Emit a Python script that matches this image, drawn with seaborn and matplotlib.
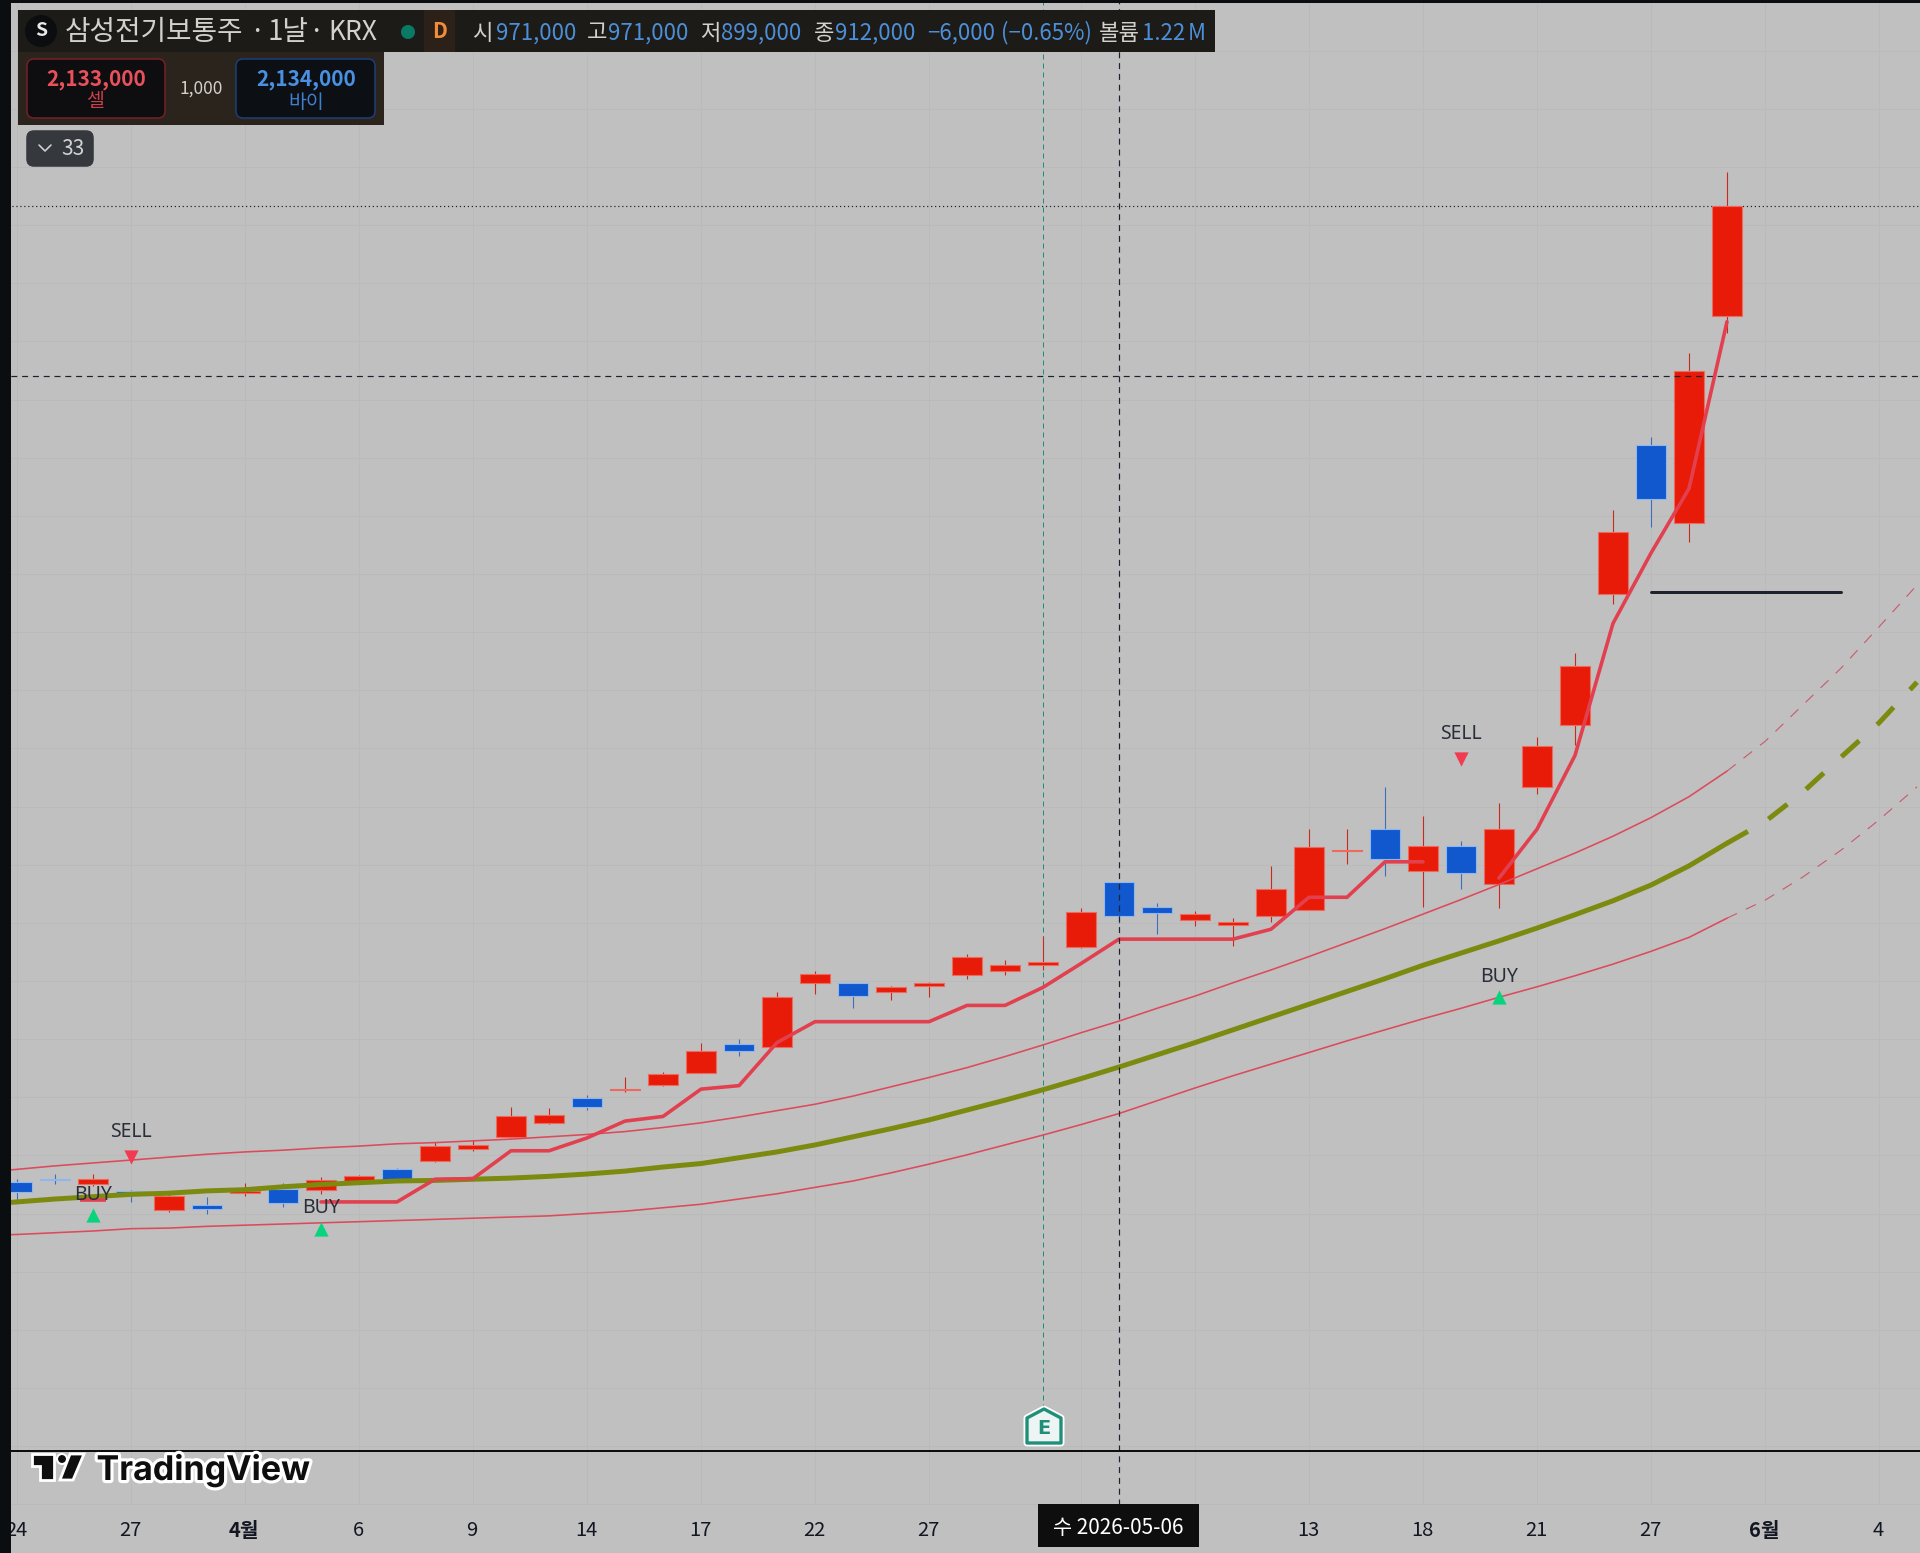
import numpy as np
import seaborn as sns
import matplotlib.pyplot as plt
import matplotlib.patheffects as pe
from matplotlib.patches import Circle, FancyBboxPatch, Polygon, Rectangle

W, H = 1920, 1553
PX = 0.72  # one pixel in points at dpi 100

# daily candles, prices in thousand KRW
opens = [454, 459, 451, 438, 406, 415, 435, 442, 441, 456, 477, 490, 511, 531, 555, 599,
         613, 621, 642, 692, 687, 797, 797, 781, 791, 811, 818, 828, 859, 971, 927, 905,
         896, 912, 922, 1023, 1062, 989, 1032, 967, 1134, 1240, 1465, 1722, 1588, 1944]
closes = [437, 458, 459, 436, 431, 408, 439, 418, 458, 464, 458, 516, 518, 567, 570, 583,
          615, 640, 680, 680, 773, 812, 774, 790, 796, 841, 828, 833, 919, 912, 917, 915,
          901, 959, 1031, 1025, 1009, 1032, 986, 1061, 1205, 1341, 1572, 1629, 1849, 2133]
highs = [459, 468, 468, 441, 435, 429, 453, 453, 463, 466, 478, 523, 526, 584, 582, 604,
         635, 644, 693, 700, 781, 817, 797, 791, 799, 846, 836, 877, 926, 971, 935, 921,
         908, 997, 1061, 1061, 1134, 1084, 1041, 1106, 1219, 1364, 1610, 1735, 1881, 2192]
lows = [423, 451, 447, 420, 403, 399, 430, 411, 434, 456, 458, 489, 508, 530, 554, 578,
        609, 619, 642, 671, 687, 778, 754, 767, 773, 804, 810, 819, 857, 899, 881, 895,
        860, 902, 922, 1001, 981, 927, 958, 926, 1121, 1206, 1448, 1581, 1555, 1914]

# channel lines, first value sits one bar left of the first candle
upper_band = [471, 476, 482, 487, 492, 497, 502, 506, 509, 513, 516, 520, 522, 525, 528, 532, 536,
              541, 548, 556, 566, 577, 588, 602, 618, 634, 651, 670, 690, 711, 731, 753, 774,
              797, 819, 842, 866, 890, 915, 940, 966, 993, 1020, 1049, 1081, 1117, 1161]
mid_band = [415, 420, 425, 429, 433, 435, 439, 441, 446, 450, 453, 456, 457, 459, 461, 464, 468,
            473, 480, 486, 496, 506, 518, 532, 546, 561, 578, 595, 613, 632, 652, 673, 694,
            716, 738, 760, 782, 804, 827, 848, 869, 891, 914, 938, 965, 998, 1037]
lower_band = [362, 364, 367, 370, 374, 375, 378, 380, 382, 384, 386, 388, 390, 392, 394, 396, 400,
              404, 410, 416, 425, 434, 445, 456, 470, 485, 501, 518, 535, 553, 572, 594, 616,
              637, 657, 677, 697, 716, 735, 753, 772, 790, 809, 829, 851, 875, 908]
# projected part of the channel, bars 45 to 50
upper_proj = [1161, 1212, 1275, 1338, 1409, 1481]
mid_proj = [1037, 1074, 1125, 1185, 1244, 1314]
lower_proj = [908, 939, 979, 1025, 1077, 1134]

# red stop line, two runs
stop_a_x = list(range(8, 38))
stop_a = [420, 420, 420, 459, 460, 508, 508, 530, 559, 567, 614, 620, 694, 730, 730, 730,
          730, 758, 758, 789, 830, 872, 872, 872, 872, 889, 944, 944, 1005, 1005]
stop_b_x = list(range(39, 46))
stop_b = [977, 1061, 1188, 1415, 1536, 1647, 1934]
stop_dot_x = [2]
stop_dot = [424]

# signals
sell_x = [3, 38]
sell_y = [498, 1181]
sell_label_y = [540, 1225]
buy_x = [2, 8, 39]
buy_y = [398, 374, 773]
buy_label_y = [432, 410, 807]

# reference levels
sell_price = 2133
cross_price = 1841
cross_bar = 29
earnings_bar = 27
ray_x = [43, 48]
ray_y = [1469, 1469]

grid_x = [0, 3, 6, 9, 12, 15, 18, 21, 24, 28, 31, 34, 37, 40, 43, 46, 49]
tick_x = [0, 3, 6, 9, 12, 15, 18, 21, 24, 34, 37, 40, 43, 46, 49]
tick_labels = ['24', '27', '4월', '6', '9', '14', '17', '22', '27', '13', '18', '21', '27', '6월', '4']
bold_ticks = ['4월', '6월']

BG = '#C0C0C0'
GRID = '#BABABA'
RED = '#E81B08'
BLUE = '#1158CE'
STOP = '#E2404F'
OLIVE = '#7C8B0F'
BAND = '#DC4B5C'
LABEL_BLUE = '#4C8FD8'
LABEL_GREY = '#D3D1CA'

sns.set_theme(style='white', rc={'axes.facecolor': BG, 'figure.facecolor': BG})
plt.rcParams['font.family'] = ['Noto Sans CJK KR', 'DejaVu Sans']

fig = plt.figure(figsize=(W / 100, H / 100), dpi=100)

# chart pane runs down to pixel row 1505, 1.72 thousand KRW per pixel, 38 pixels per bar
pane_bottom = 1505
ax = fig.add_axes([0, 1 - pane_bottom / H, 1, pane_bottom / H])
ax.set_xlim(-17 / 38, (W - 17) / 38)
ax.set_ylim(2487.3 - 1.72 * pane_bottom, 2487.3)
ax.set_xticks(grid_x)
ax.set_yticks(np.arange(-100, 2500, 100))
ax.grid(True, color=GRID, linewidth=PX)
ax.set_axisbelow(True)
ax.tick_params(length=0, labelbottom=False, labelleft=False)
sns.despine(ax=ax, left=True, bottom=True)

# levels behind the candles
ax.axhline(sell_price, color='#1E222D', linewidth=1.2 * PX, linestyle=(0, (1, 2.3)), zorder=1.5)
ax.plot([earnings_bar, earnings_bar], [2487, 2487.3 - 1.72 * 1408], color='#1F8F7A',
        linewidth=PX, linestyle=(0, (5, 4)), zorder=1.5)

x = np.arange(len(opens))
o, c, hi, lo = map(np.array, (opens, closes, highs, lows))
up = c >= o
ax.vlines(x[up], lo[up], hi[up], color='#C62A1C', linewidth=1.1 * PX, zorder=2)
ax.vlines(x[~up], lo[~up], hi[~up], color='#3A6EBE', linewidth=1.1 * PX, zorder=2)
ax.bar(x[up], (c - o)[up], bottom=o[up], width=0.77, color=RED, edgecolor='#EE6A5E',
       linewidth=0.8, zorder=3)
ax.bar(x[~up], (o - c)[~up], bottom=c[~up], width=0.77, color=BLUE, edgecolor='#8DB8EE',
       linewidth=0.8, zorder=3)

# channel
band_x = list(range(-1, 46))
proj_x = list(range(45, 51))
for band in (upper_band, lower_band):
    sns.lineplot(x=band_x, y=band, ax=ax, color=BAND, linewidth=1.6 * PX, legend=False,
                 estimator=None, errorbar=None, zorder=4)
for band in (upper_proj, lower_proj):
    sns.lineplot(x=proj_x, y=band, ax=ax, color='#C9586A', linewidth=1.1 * PX, legend=False,
                 estimator=None, errorbar=None, zorder=4, linestyle=(0, (10, 9)))
sns.lineplot(x=band_x, y=mid_band, ax=ax, color=OLIVE, linewidth=5 * PX, legend=False,
             estimator=None, errorbar=None, zorder=4)
sns.lineplot(x=proj_x, y=mid_proj, ax=ax, color=OLIVE, linewidth=5 * PX, legend=False,
             estimator=None, errorbar=None, zorder=4, linestyle=(0, (4.8, 4.8)), dash_capstyle='butt')

# stop line
sns.lineplot(x=stop_a_x, y=stop_a, ax=ax, color=STOP, linewidth=3.6 * PX, legend=False,
             estimator=None, errorbar=None, zorder=5)
sns.lineplot(x=stop_b_x, y=stop_b, ax=ax, color=STOP, linewidth=3.6 * PX, legend=False,
             estimator=None, errorbar=None, zorder=5)
ax.scatter(stop_dot_x, stop_dot, marker='_', s=350, color=STOP, linewidth=3.6 * PX, zorder=5)

sns.lineplot(x=ray_x, y=ray_y, ax=ax, color='#1E222D', linewidth=3 * PX, legend=False,
             estimator=None, errorbar=None, zorder=5)

# signals
sns.scatterplot(x=sell_x, y=sell_y, ax=ax, marker='v', s=105, color='#F23B50', linewidth=0,
                legend=False, zorder=6)
sns.scatterplot(x=buy_x, y=buy_y, ax=ax, marker='^', s=105, color='#08D47E', linewidth=0,
                legend=False, zorder=6)
for xs, ys, word in ((sell_x, sell_label_y, 'SELL'), (buy_x, buy_label_y, 'BUY')):
    for xi, yi in zip(xs, ys):
        ax.text(xi, yi, word, ha='center', va='center', fontsize=14, color='#2A2E39',
                family=['Noto Sans', 'DejaVu Sans'], zorder=7)

# crosshair
ax.axhline(cross_price, color='#1E222D', linewidth=1.2 * PX, linestyle=(0, (5, 4)), zorder=6)
ax.axvline(cross_bar, color='#1E222D', linewidth=1.2 * PX, linestyle=(0, (5, 4)), zorder=6)

# time axis labels
for xi, label in zip(tick_x, tick_labels):
    ax.text(xi - 0.02, (pane_bottom - 1530.5) / pane_bottom, label, transform=ax.get_xaxis_transform(),
            ha='center', va='center', fontsize=14.5, color='#131722', clip_on=False,
            fontweight='bold' if label in bold_ticks else 'normal')

# everything around the chart, drawn in pixel coordinates
ui = fig.add_axes([0, 0, 1, 1])
ui.set_xlim(0, W)
ui.set_ylim(H, 0)
ui.axis('off')
ui.patch.set_visible(False)


def rect(x0, y0, x1, y1, color, **kw):
    ui.add_patch(Rectangle((x0, y0), x1 - x0, y1 - y0, facecolor=color, edgecolor='none', **kw))


def box(x0, y0, x1, y1, face, edge):
    ui.add_patch(FancyBboxPatch((x0 + 6, y0 + 6), x1 - x0 - 12, y1 - y0 - 12, boxstyle='round,pad=6,rounding_size=7',
                                facecolor=face, edgecolor=edge, linewidth=1.1))


rect(0, 0, 11, H, '#0B0E11')
rect(0, 0, W, 3, '#0B0E11')
ui.plot([11, W], [1450.5, 1450.5], color='#0E0E0E', linewidth=2 * PX)

# legend strip
rect(18, 10, 1215, 52, '#1D1B17')
rect(18, 52, 384, 125, '#2A241D')
rect(424, 10, 455, 52, '#2B2119')
ui.add_patch(Circle((41, 31), 16, facecolor='#0B0D10', edgecolor='none'))
ui.text(41, 31, 'S', color='#E8E8E8', fontsize=14, fontweight='bold', ha='center', va='center')
ui.text(65, 32, '삼성전기보통주', color=LABEL_GREY, fontsize=20, ha='left', va='center')
ui.text(257, 32, '·', color=LABEL_GREY, fontsize=20, ha='center', va='center')
ui.text(267, 32, '1날', color=LABEL_GREY, fontsize=20, ha='left', va='center')
ui.text(316, 32, '·', color=LABEL_GREY, fontsize=20, ha='center', va='center')
ui.text(328.5, 32, 'KRX', color=LABEL_GREY, fontsize=19, ha='left', va='center')
ui.add_patch(Circle((408, 32), 7, facecolor='#0A7A64', edgecolor='none'))
ui.text(440, 32, 'D', color='#F28C38', fontsize=15, fontweight='bold', ha='center', va='center')

legend_items = [(473.5, '시', LABEL_GREY), (496, '971,000', LABEL_BLUE), (587, '고', LABEL_GREY),
                (608, '971,000', LABEL_BLUE), (700.5, '저', LABEL_GREY), (721.5, '899,000', LABEL_BLUE),
                (813.5, '종', LABEL_GREY), (835, '912,000', LABEL_BLUE), (927, '−6,000', LABEL_BLUE),
                (1001, '(−0.65%)', LABEL_BLUE), (1099, '볼륨', LABEL_GREY), (1142, '1.22', LABEL_BLUE),
                (1188, 'M', LABEL_BLUE)]
for lx, word, col in legend_items:
    ui.text(lx, 33, word, color=col, fontsize=16, ha='left', va='center')

box(27, 59, 165, 118, '#0E0E10', '#7A1E28')
box(236, 59, 375, 118, '#0C0F14', '#1C3F7A')
ui.text(96, 79, '2,133,000', color='#E8505B', fontsize=15, fontweight='bold', ha='center', va='center')
ui.text(96, 102, '셀', color='#C8414B', fontsize=14, ha='center', va='center')
ui.text(201, 89, '1,000', color=LABEL_GREY, fontsize=12.5, ha='center', va='center')
ui.text(306, 79, '2,134,000', color='#4A90E2', fontsize=15, fontweight='bold', ha='center', va='center')
ui.text(306, 102, '바이', color='#3F7FCC', fontsize=14, ha='center', va='center')

box(27, 131, 93, 166, '#35383D', '#35383D')
ui.plot([39, 45, 51], [145, 151, 145], color='#D1D2D3', linewidth=1.6 * PX)
ui.text(72.5, 149, '33', color='#D1D2D3', fontsize=15, ha='center', va='center')

# earnings flag
flag = [(1027, 1418), (1044, 1409), (1061, 1418), (1061, 1443), (1027, 1443)]
ui.add_patch(Polygon(flag, closed=True, facecolor='#ECF5F3', edgecolor='white', linewidth=5, joinstyle='round'))
ui.add_patch(Polygon(flag, closed=True, facecolor='#ECF5F3', edgecolor='#1F8F7A', linewidth=2.4, joinstyle='round'))
ui.text(1044, 1429, 'E', color='#1F8F7A', fontsize=14, fontweight='bold', ha='center', va='center',
        family=['DejaVu Sans'])

# crosshair date tag
rect(1038, 1504, 1199, 1547, '#0E0E0E')
ui.text(1118.5, 1528, '수 2026-05-06', color='white', fontsize=15, ha='center', va='center')

# TradingView mark
halo = [pe.withStroke(linewidth=4.5, foreground='white')]
logo_t = [(32, 1454), (54, 1454), (54, 1480), (40, 1480), (40, 1466), (32, 1466)]
logo_slash = [(70, 1454), (84, 1454), (73, 1480), (60, 1480)]
for shape in (logo_t, logo_slash):
    ui.add_patch(Polygon(shape, closed=True, facecolor='#0E0E0E', edgecolor='white', linewidth=2))
ui.add_patch(Circle((62, 1459), 5, facecolor='#0E0E0E', edgecolor='white', linewidth=1.5))
ui.text(96.5, 1480, 'TradingView', color='#0E0E0E', fontsize=24.5, fontweight='bold', ha='left', va='baseline',
        family=['Inter', 'DejaVu Sans'], path_effects=halo)

fig.savefig('out.png', dpi=100)
